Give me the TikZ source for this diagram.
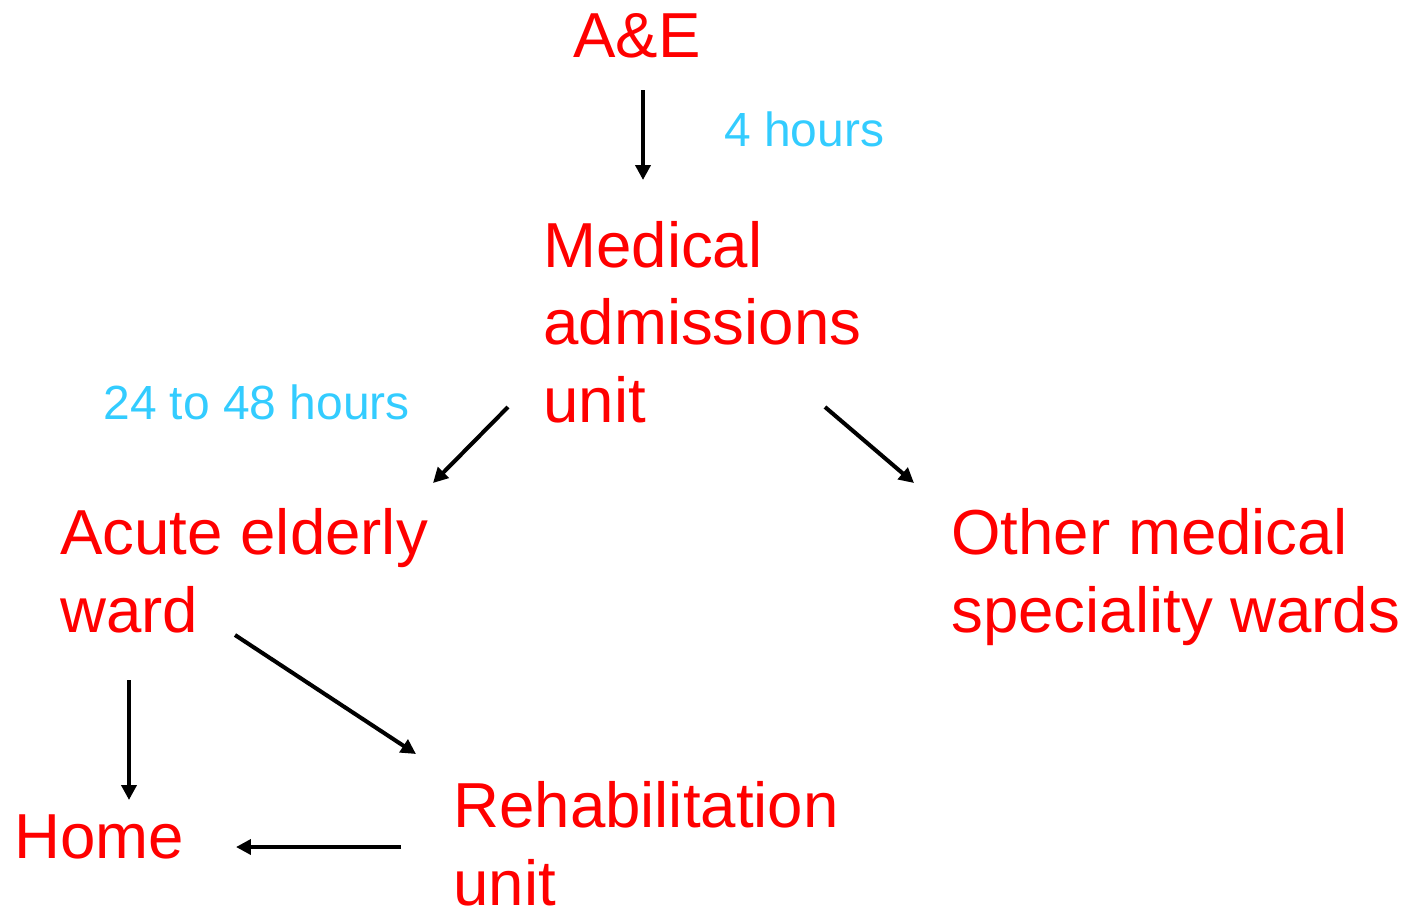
\documentclass[tikz,border=0pt]{standalone}
\usepackage{fontspec}
\setmainfont{Liberation Sans}
\usetikzlibrary{arrows.meta}
\definecolor{wardred}{RGB}{255,0,0}
\definecolor{timeblue}{RGB}{51,204,255}

\begin{document}
\begin{tikzpicture}[
    x=0.02cm, y=-0.02cm,
    place/.style={anchor=base west, inner sep=0pt, align=left, text=wardred,
        font=\fontsize{36.2}{44}\selectfont},
    timing/.style={anchor=base west, inner sep=0pt, text=timeblue,
        font=\fontsize{27.3}{33}\selectfont},
    flow/.style={-{Triangle[length=8.5pt,width=8.5pt]}, line width=2.3pt, black}
]
\useasboundingbox (0,0) rectangle (1409,907);

% Wards and units (base = last line)
\node[place] (ae) at (573,57) {A\&E};
\node[place] (mau) at (543,422) {Medical\\admissions\\unit};
\node[place] (acute) at (60,632) {Acute elderly\\ward};
\node[place] (other) at (951,632) {Other medical\\speciality wards};
\node[place] (home) at (14,858) {Home};
\node[place] (rehab) at (453,905) {Rehabilitation\\unit};

% Time labels
\node[timing] (t4) at (724,146) {4 hours};
\node[timing] (t48) at (103,419) {24 to 48 hours};

% Patient flow
\draw[flow] ([shift={(70,33)}]ae.base west) -- ([shift={(100,-242)}]mau.base west);
\draw[flow] ([shift={(-35,-15)}]mau.base west) -- ([shift={(373,-149)}]acute.base west);
\draw[flow] ([shift={(282,-15)}]mau.base west) -- ([shift={(-37,-149)}]other.base west);
\draw[flow] ([shift={(69,48)}]acute.base west) -- ([shift={(115,-58)}]home.base west);
\draw[flow] ([shift={(175,3)}]acute.base west) -- ([shift={(-37,-151)}]rehab.base west);
\draw[flow] ([shift={(-52,-58)}]rehab.base west) -- ([shift={(222,-11)}]home.base west);

\end{tikzpicture}
\end{document}
